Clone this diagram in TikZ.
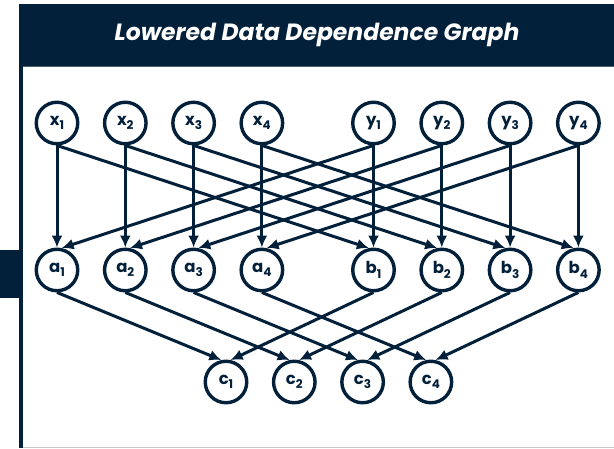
\documentclass[tikz,border=0pt]{standalone}
\usepackage{fontspec}
\setmainfont{Poppins}
\usetikzlibrary{arrows.meta}
\definecolor{navy}{HTML}{03203A}
\definecolor{rulegray}{HTML}{C8C8C8}
\definecolor{slate}{HTML}{4A6073}
\newcommand{\lbl}[2]{{\fontsize{16.5}{16.5}\selectfont\bfseries #1}\raisebox{-4.5pt}{\fontsize{12}{12}\selectfont\bfseries #2}}
\begin{document}
\begin{tikzpicture}[x=1pt,y=-1pt,
  vtx/.style={circle,draw=navy,line width=3.4pt,fill=white,minimum size=41.5pt,inner sep=0pt,text=navy},
  dep/.style={draw=navy,line width=3pt,-{Latex[length=12pt,width=11pt]}}]
\useasboundingbox (0,0) rectangle (614,448);
% frame
\fill[white] (0,0) rectangle (614,448);
\fill[navy] (19,4) rectangle (614,66);
\draw[slate,line width=1pt] (19,66) -- (614,66);
\fill[navy] (19,66) rectangle (23,448);
\fill[navy] (0,250) rectangle (22,298);
\draw[rulegray,line width=1.2pt] (23,447.4) -- (614,447.4);
\node[text=white,font=\fontsize{23.5}{23.5}\selectfont\bfseries\itshape] (title) at (317,35) {Lowered Data Dependence Graph};
% vertices
\foreach \i in {1,...,4}{
  \pgfmathsetmacro{\px}{57+68.3*(\i-1)}
  \pgfmathsetmacro{\py}{373.5+68.3*(\i-1)}
  \pgfmathsetmacro{\pc}{226+68.3*(\i-1)}
  \node[vtx] (x\i) at (\px,123) {\lbl{x}{\i}};
  \node[vtx] (y\i) at (\py,123) {\lbl{y}{\i}};
  \node[vtx] (a\i) at (\px,270) {\lbl{a}{\i}};
  \node[vtx] (b\i) at (\py,270) {\lbl{b}{\i}};
  \node[vtx] (c\i) at (\pc,382) {\lbl{c}{\i}};
}
% dependences
\foreach \i in {1,...,4}{
  \draw[dep] (x\i.south) -- (a\i.north);
  \draw[dep] (x\i.south) -- (b\i.102);
  \draw[dep] (y\i.south) -- (b\i.north);
  \draw[dep] (y\i.south) -- (a\i.78);
  \draw[dep] (a\i.south) -- (c\i.102);
  \draw[dep] (b\i.south) -- (c\i.78);
}
\end{tikzpicture}
\end{document}
